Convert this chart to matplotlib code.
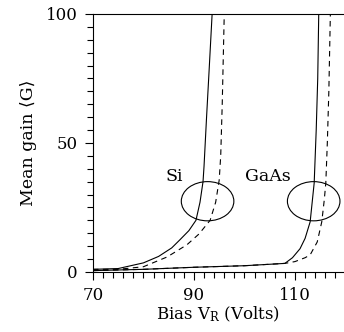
import matplotlib
matplotlib.use("Agg")
import matplotlib.pyplot as plt
from matplotlib.patches import Ellipse
from matplotlib.ticker import FixedLocator, MultipleLocator

plt.rcParams['font.family'] = ['DejaVu Serif', 'DejaVu Sans']
plt.rcParams['mathtext.fontset'] = 'dejavuserif'
plt.rcParams['mathtext.default'] = 'regular'

# Si curves (bias in volts, mean gain)
si_solid_v = [70, 75, 80, 83, 85.6, 87.2, 89, 90.4, 91.2, 91.8, 92.0, 92.5, 93.0, 93.6]
si_solid_g = [1, 1.3, 3.5, 6, 9.3, 12.4, 16, 20, 27, 35, 41, 60, 78, 100]
si_dash_v = [70, 75, 80, 84.7, 88.6, 91, 93.2, 94.3, 95.0, 95.3, 95.6, 96.0]
si_dash_g = [1, 1.0, 2, 5.8, 10.5, 14.7, 20, 27, 35.6, 45, 65, 100]

# GaAs curves
gaas_solid_v = [70, 80, 90, 100, 108, 109.5, 111, 112, 113, 113.8, 114.2, 114.5, 114.7]
gaas_solid_g = [0.5, 1, 1.8, 2.4, 3.3, 5.5, 9, 13, 19.4, 34.5, 55, 75, 100]
gaas_dash_v = [70, 80, 90, 100, 108, 110, 112, 113, 114.4, 115.3, 115.8, 116.1, 116.4, 116.7, 117.0]
gaas_dash_g = [0.5, 1, 1.8, 2.4, 3.3, 4, 5.5, 6.6, 11.6, 19.4, 28, 34.5, 50, 70, 100]

x_ticks = [70, 90, 110]
y_ticks = [0, 50, 100]

fig = plt.figure(figsize=(3.44, 3.32), dpi=100)
ax = fig.add_axes([0.270, 0.181, 0.730, 0.777])

ax.plot(si_solid_v, si_solid_g, color='black', lw=0.8)
ax.plot(si_dash_v, si_dash_g, color='black', lw=0.8, ls=(0, (5, 4)))
ax.plot(gaas_solid_v, gaas_solid_g, color='black', lw=0.8)
ax.plot(gaas_dash_v, gaas_dash_g, color='black', lw=0.8, ls=(0, (5, 4)))

# circles marking the operating region
ax.add_patch(Ellipse((92.7, 27.4), 10.4, 15.2, fill=False, lw=0.8, ec='black'))
ax.add_patch(Ellipse((113.7, 27.4), 10.4, 15.2, fill=False, lw=0.8, ec='black'))

ax.text(86.2, 36.8, 'Si', ha='center', va='center', fontsize=12.5)
ax.text(104.7, 36.8, 'GaAs', ha='center', va='center', fontsize=12.5)

ax.set_xlim(70, 119.7)
ax.set_ylim(0, 100)
ax.xaxis.set_major_locator(FixedLocator(x_ticks))
ax.xaxis.set_minor_locator(MultipleLocator(2))
ax.yaxis.set_major_locator(FixedLocator(y_ticks))
ax.yaxis.set_minor_locator(MultipleLocator(5))
ax.tick_params(which='major', length=6, width=0.8, labelsize=12, pad=5)
ax.tick_params(which='minor', length=4, width=0.8)
ax.spines['right'].set_visible(False)
for s in ['left', 'bottom', 'top']:
    ax.spines[s].set_linewidth(0.8)

ax.set_xlabel('Bias V$_R$ (Volts)', fontsize=12, labelpad=0)
ax.set_ylabel('Mean gain ⟨G⟩', fontsize=12.5, labelpad=6)

fig.savefig('out.png', dpi=100)
